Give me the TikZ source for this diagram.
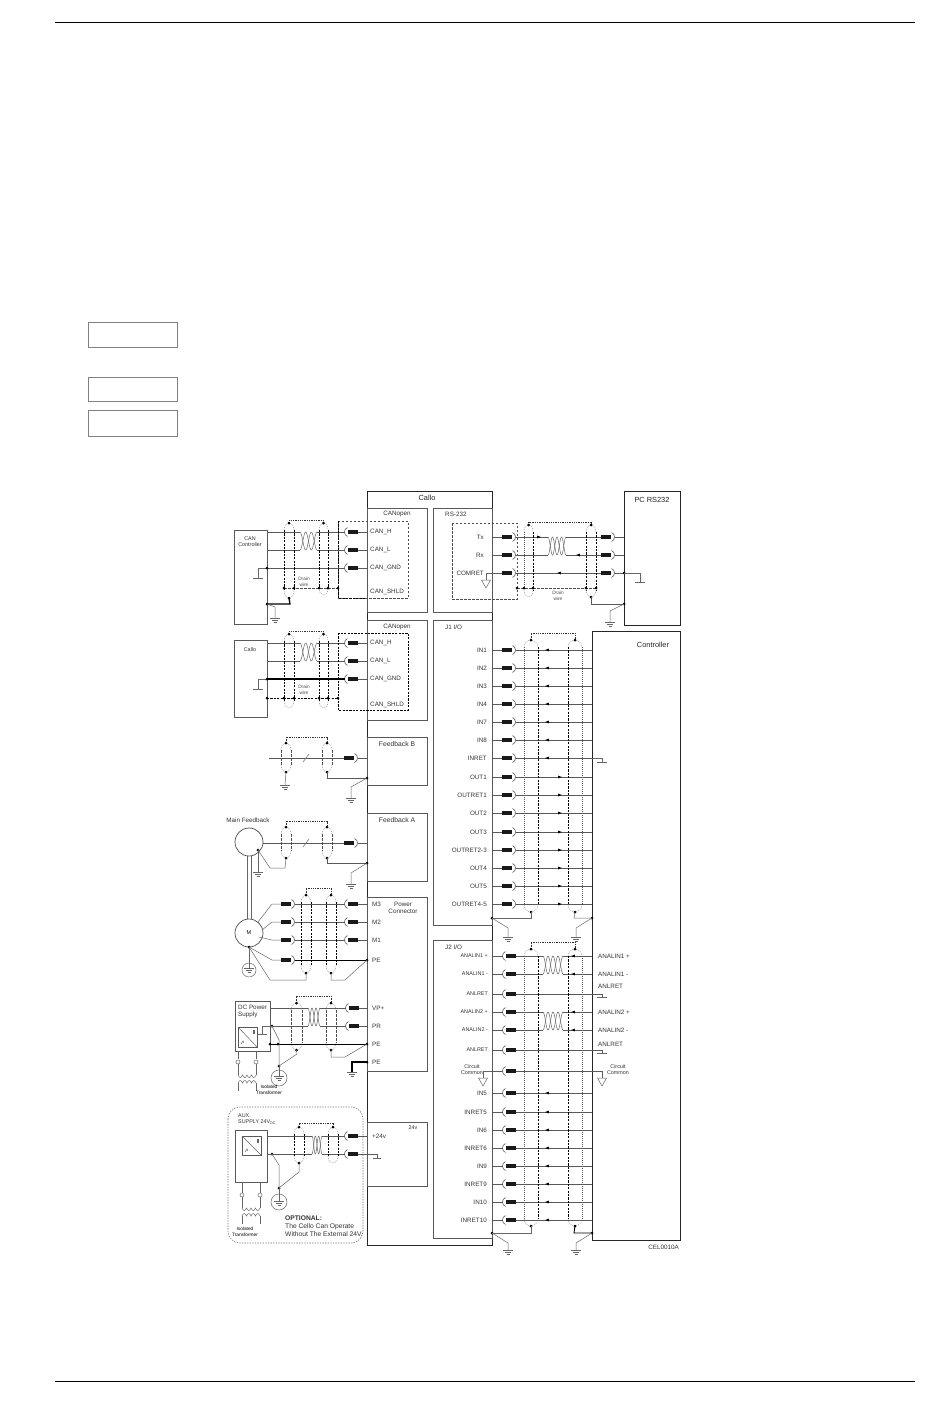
\documentclass[tikz,border=0pt]{standalone}
\usepackage{fontspec}
\setmainfont{Liberation Sans}
\usetikzlibrary{calc,fit,positioning}

\tikzset{
    framebox/.style={draw=black!85, line width=0.9pt, inner sep=0pt, outer sep=0pt},
    subbox/.style={draw=black!65, line width=0.7pt, inner sep=0pt, outer sep=0pt},
    blankbox/.style={draw=black!50, line width=0.9pt, inner sep=0pt, outer sep=0pt},
    plug/.style={fill=black!90, minimum width=10pt, minimum height=4.6pt, inner sep=0pt, outer sep=0pt},
    lbl/.style={font=\fontsize{6.3}{7}\selectfont, text=black!80, inner sep=0pt},
    tinylbl/.style={font=\fontsize{5.4}{6}\selectfont, text=black!80, inner sep=0pt},
    drainlbl/.style={font=\fontsize{4.8}{5.8}\selectfont, text=black!70, inner sep=0pt, align=center},
    headlbl/.style={font=\fontsize{7.4}{9}\selectfont, text=black!85, inner sep=0pt},
    wire/.style={draw=black!65, line width=0.7pt},
    fatwire/.style={draw=black, line width=1.3pt},
    thinwire/.style={draw=black!60, line width=0.5pt},
    cup/.style={draw=black!65, line width=0.6pt},
    shfat/.style={draw=black, line width=0.9pt, dash pattern=on 2.2pt off 1.2pt},
    shmid/.style={draw=black!70, line width=0.6pt, dash pattern=on 2.5pt off 1.5pt},
    shthin/.style={draw=black!65, line width=0.5pt, dash pattern=on 1pt off 1pt},
    shend/.style={draw=black!45, line width=0.4pt, dash pattern=on 1pt off 1pt},
    shlinkline/.style={draw=black!80, line width=0.7pt, dash pattern=on 1.3pt off 1pt},
    auxbox/.style={draw=black!55, line width=0.6pt, dash pattern=on 1.3pt off 1.3pt, rounded corners=12pt},
}

\newcommand{\jd}[1]{\fill[black] #1 circle (1.5pt);}
\newcommand{\plugR}[3]{
    \node[plug] (#1) at (#2,#3) {};
    \coordinate (#1c) at ($(#1.east)+(3.5,0)$);
    \draw[cup] ($(#1c)+(-3,-4.5)$) .. controls ($(#1c)+(1,-3)$) and ($(#1c)+(1,3)$) .. ($(#1c)+(-3,4.5)$);
}
\newcommand{\plugL}[3]{
    \node[plug] (#1) at (#2,#3) {};
    \coordinate (#1c) at ($(#1.west)+(-3.5,0)$);
    \draw[cup] ($(#1c)+(3,-4.5)$) .. controls ($(#1c)+(-1,-3)$) and ($(#1c)+(-1,3)$) .. ($(#1c)+(3,4.5)$);
}
\newcommand{\shield}[7]{
    \pgfmathsetmacro{\shm}{(#2+#3)/2}
    \pgfmathsetmacro{\sha}{#4+7}
    \pgfmathsetmacro{\shb}{#5-7}
    \coordinate (#1t) at (\shm,#4);
    \coordinate (#1b) at (\shm,#5);
    \draw[#6] (#2,\sha) -- (#2,\shb);
    \draw[#7] (#3,\sha) -- (#3,\shb);
    \draw[shend] (#2,\sha) .. controls (#2,#4+2) and (\shm-2,#4) .. (\shm,#4) .. controls (\shm+2,#4) and (#3,#4+2) .. (#3,\sha);
    \draw[shend] (#2,\shb) .. controls (#2,#5-2) and (\shm-2,#5) .. (\shm,#5) .. controls (\shm+2,#5) and (#3,#5-2) .. (#3,\shb);
}
\newcommand{\shlink}[3]{
    \draw[shlinkline] (#1) -- ($(#1)+(0,-#3)$) -| (#2);
    \jd{(#1)} \jd{(#2)}
}
\newcommand{\twist}[6][540]{
    \coordinate (#2a) at (#3,#5);
    \coordinate (#2b) at (#3,#6);
    \coordinate (#2c) at (#4,#5);
    \coordinate (#2d) at (#4,#6);
    \draw[thinwire] plot[domain=0:1, samples=49, smooth] ({#3+(#4-#3)*\x},{(#5+#6)/2+(#5-#6)/2*cos(#1*\x)});
    \draw[thinwire] plot[domain=0:1, samples=49, smooth] ({#3+(#4-#3)*\x},{(#5+#6)/2-(#5-#6)/2*cos(#1*\x)});
}
\newcommand{\gnd}[2]{
    \draw[thinwire] (#1-5,#2) -- (#1+5,#2);
    \draw[thinwire] (#1-3,#2+2) -- (#1+3,#2+2);
    \draw[thinwire] (#1-1.5,#2+4) -- (#1+1.5,#2+4);
}
\newcommand{\sgnd}[2]{
    \draw[thinwire] (#1-5,#2) -- (#1+5,#2);
}
\newcommand{\tipL}[2]{\fill[black] (#1-1.8,#2) -- (#1+1.8,#2-1.4) -- (#1+1.8,#2+1.4) -- cycle;}
\newcommand{\tipR}[2]{\fill[black] (#1+1.8,#2) -- (#1-1.8,#2-1.4) -- (#1-1.8,#2+1.4) -- cycle;}
\newcommand{\commontri}[2]{\draw[thinwire] (#1-4.5,#2) -- (#1+4.5,#2) -- (#1,#2+8) -- cycle;}
\newcommand{\xfmr}[3]{
    \draw[thinwire] plot[domain=0:1, samples=41, smooth] ({#1+(#2-#1)*\x},{#3+2.5*abs(sin(720*\x))});
    \draw[thinwire] plot[domain=0:1, samples=41, smooth] ({#1+(#2-#1)*\x},{#3+8-2.5*abs(sin(720*\x))});
}
\newcommand{\supsym}[1]{
    \draw[thinwire] (#1.north west) -- (#1.south east);
    \draw[thinwire] ($(#1.north east)+(-4,3)$) -- ($(#1.north east)+(-4,7)$);
    \draw[thinwire] ($(#1.north east)+(-2.5,3)$) -- ($(#1.north east)+(-2.5,7)$);
    \draw[thinwire] ($(#1.south west)+(3,-3)$) -- ($(#1.south west)+(5,-6)$) -- ($(#1.south west)+(6,-4)$);
}

\begin{document}
\begin{tikzpicture}[x=1pt, y=-1pt]
    \useasboundingbox[fill=white] (0,0) rectangle (950,1408);

    \coordinate (ruleTL) at (55,22);
    \coordinate (ruleTR) at (915,22);
    \coordinate (ruleBL) at (55,1381);
    \coordinate (ruleBR) at (915,1381);
    \draw[line width=0.9pt] (ruleTL) -- (ruleTR);
    \draw[line width=0.9pt] (ruleBL) -- (ruleBR);

    \node[blankbox, fit={(88,322) (177,347)}] (blankA) {};
    \node[blankbox, fit={(88,377) (177,401)}] (blankB) {};
    \node[blankbox, fit={(88,410) (177,436)}] (blankC) {};

    % Cello frame
    \node[framebox, fit={(367,491) (492,1245)}] (callo) {};
    \node[headlbl, anchor=center] (calloLbl) at (427,497.5) {Callo};
    \node[subbox, fit={(367,508) (427,612)}] (canA) {};
    \node[subbox, fit={(367,620) (427,720)}] (canB) {};
    \node[subbox, fit={(433,508) (492,612)}] (rs) {};
    \node[subbox, fit={(433,620) (492,925)}] (jone) {};
    \node[subbox, fit={(433,940) (492,1238)}] (jtwo) {};
    \node[subbox, fit={(367,737) (427,785)}] (fbb) {};
    \node[subbox, fit={(367,813) (427,881)}] (fba) {};
    \node[subbox, fit={(367,897) (427,1071)}] (power) {};
    \node[subbox, fit={(367,1122) (427,1186)}] (aux) {};
    \node[lbl, anchor=center] (canALbl) at (397,514) {CANopen};
    \node[lbl, anchor=center] (canBLbl) at (397,627) {CANopen};
    \node[lbl, anchor=west] (rsLbl) at (445,514) {RS-232};
    \node[lbl, anchor=west] (joneLbl) at (445,627) {J1 I/O};
    \node[lbl, anchor=west] (jtwoLbl) at (445,947) {J2 I/O};
    \node[lbl, anchor=center, font=\fontsize{6.8}{8}\selectfont] (fbbLbl) at (397,744) {Feedback B};
    \node[lbl, anchor=center, font=\fontsize{6.8}{8}\selectfont] (fbaLbl) at (397,820) {Feedback A};
    \node[lbl, anchor=center, align=center] (powerLbl) at (403,908) {Power\\Connector};
    \node[tinylbl, anchor=center] (auxLbl) at (413,1128) {24v};

    \node[framebox, fit={(624,491) (680,625)}] (pc) {};
    \node[headlbl, anchor=center] (pcLbl) at (652,500) {PC RS232};
    \node[framebox, fit={(592,631) (680,1240)}] (ctrl) {};
    \node[headlbl, anchor=center] (ctrlLbl) at (653,645) {Controller};
    \node[lbl, anchor=east] (celLbl) at (679,1247) {CEL0010A};

    % CAN controller
    \node[subbox, fit={(234,530) (267,624)}] (canctl) {};
    \node[tinylbl, anchor=center, align=center] (canctlLbl) at (250,542) {CAN\\Controller};
    \foreach \n/\y/\lab in {H/532/CAN\_H, L/550/CAN\_L, G/568/CAN\_GND}{
        \plugL{ca\n}{353}{\y}
        \draw[wire] (ca\n.east) -- (ca\n.east -| callo.west);
        \node[lbl, anchor=west] (ca\n Lbl) at (370,\y) {\lab};
    }
    \node[lbl, anchor=west] (caSLbl) at (370,592) {CAN\_SHLD};
    \twist{twa}{300}{317}{532}{550}
    \draw[wire] (canctl.east |- twaa) -- (twaa);
    \draw[wire] (canctl.east |- twab) -- (twab);
    \draw[wire] (twac) -- (caHc);
    \draw[wire] (twad) -- (caLc);
    \coordinate (jcaG) at (267,568);
    \draw[wire] (jcaG) -- (caGc);
    \draw[thinwire] (jcaG) -- (258,568) -- (258,578);
    \sgnd{258}{578}
    \jd{(jcaG)}
    \shield{sa}{284}{294}{523}{598}{shfat}{shfat}
    \shield{sb}{319}{328}{523}{595}{shfat}{shfat}
    \shlink{sat}{sbt}{3}
    \draw[shmid] (284,588) -- (338,588);
    \foreach \x in {284,294,319,328,338}{\jd{(\x,588)}}
    \draw[shmid] (338,521) rectangle (408,598);
    \draw[shfat] (338,521) -- (338,598) -- (366,598);
    \coordinate (jcaE) at (267,604);
    \draw[fatwire] (sab) -- (290,604) -- (jcaE);
    \jd{(sab)} \jd{(jcaE)}
    \draw[thinwire] (jcaE) -- (275,607) -- (275,618);
    \gnd{275}{618}
    \node[drainlbl] (drainA) at (304,582) {Drain\\wire};

    % second CAN
    \node[subbox, fit={(234,640) (267,717)}] (cello) {};
    \node[tinylbl, anchor=center] (celloLbl) at (250,650) {Callo};
    \foreach \n/\y/\lab in {H/643/CAN\_H, L/661/CAN\_L, G/679/CAN\_GND}{
        \plugL{cb\n}{353}{\y}
        \draw[wire] (cb\n.east) -- (cb\n.east -| callo.west);
        \node[lbl, anchor=west] (cb\n Lbl) at (370,\y) {\lab};
    }
    \node[lbl, anchor=west] (cbSLbl) at (370,705) {CAN\_SHLD};
    \twist{twb}{300}{317}{643}{661}
    \draw[wire] (cello.east |- twba) -- (twba);
    \draw[wire] (cello.east |- twbb) -- (twbb);
    \draw[wire] (twbc) -- (cbHc);
    \draw[wire] (twbd) -- (cbLc);
    \coordinate (jcbG) at (267,679);
    \draw[fatwire] (jcbG) -- (cbGc);
    \draw[thinwire] (jcbG) -- (258,679) -- (258,689);
    \sgnd{258}{689}
    \jd{(jcbG)}
    \shield{sc}{284}{294}{634}{708}{shfat}{shfat}
    \shield{sd}{319}{328}{634}{708}{shfat}{shfat}
    \shlink{sct}{sdt}{3}
    \draw[shfat] (267,698) -- (338,698);
    \foreach \x in {267,284,294,319,328,338}{\jd{(\x,698)}}
    \draw[shfat] (338,633) rectangle (408,710);
    \node[drainlbl] (drainB) at (304,690) {Drain\\wire};

    % Feedback B
    \plugR{fbbp}{349}{758}
    \coordinate (fbbIn) at (269,758);
    \draw[wire] (fbbIn) -- (fbbp.west);
    \draw[wire] (fbbpc) -- (fbbpc -| callo.west);
    \shield{se}{281}{291}{743}{772}{shmid}{shmid}
    \shield{sf}{322}{332}{743}{772}{shmid}{shmid}
    \shlink{set}{sft}{6}
    \jd{(seb)} \jd{(sfb)}
    \draw[thinwire] (303,762) -- (309,754);
    \draw[thinwire] (seb) -- (285,785);
    \gnd{285}{785}
    \coordinate (jfbb) at (367,778);
    \draw[wire] (sfb) |- (jfbb);
    \jd{(jfbb)}
    \draw[thinwire] (jfbb) -- (351,787) -- (351,798);
    \gnd{351}{798}

    % Feedback A
    \node[circle, draw=black!70, line width=0.7pt, minimum size=28pt, inner sep=0pt] (fbmot) at (249,842) {};
    \node[lbl, anchor=center] (fbmotLbl) at (248,820) {Main Feedback};
    \plugR{fbap}{349}{843}
    \draw[wire] (fbmot.east |- fbap) -- (fbap.west);
    \draw[wire] (fbapc) -- (fbapc -| callo.west);
    \shield{sg}{281}{291}{827}{858}{shmid}{shmid}
    \shield{sh}{322}{332}{827}{858}{shmid}{shmid}
    \shlink{sgt}{sht}{6}
    \jd{(sgb)} \jd{(shb)}
    \draw[thinwire] (303,847) -- (309,839);
    \coordinate (jfbm) at (258,850);
    \jd{(jfbm)}
    \draw[thinwire] (jfbm) -- (258,872);
    \gnd{258}{872}
    \draw[thinwire] (jfbm) -- (270,868) -- (285,868) -- (sgb);
    \coordinate (jfba) at (367,863);
    \draw[wire] (shb) |- (jfba);
    \jd{(jfba)}
    \draw[thinwire] (jfba) -- (351,873) -- (351,884);
    \gnd{351}{884}

    % Motor
    \node[circle, draw=black!70, line width=0.7pt, minimum size=28pt, inner sep=0pt, font=\fontsize{5.5}{6}\selectfont] (motor) at (249,933) {M};
    \draw[black!60, line width=0.8pt] (247,856) -- (247,919);
    \draw[black!60, line width=0.8pt] (251.5,856) -- (251.5,919);
    \foreach \n/\y/\lab/\mx/\my in {three/904/M3/258/922, two/922/M2/262/930, one/940/M1/259/937}{
        \plugR{ml\n}{286}{\y}
        \plugL{mr\n}{353}{\y}
        \draw[wire] (mr\n.east) -- (mr\n.east -| callo.west);
        \draw[wire] (ml\n c) -- (mr\n c);
        \draw[thinwire] (\mx,\my) -- ($(ml\n.west)+(-9,0)$) -- (ml\n.west);
        \node[lbl, anchor=west] (mr\n Lbl) at (372,\y) {\lab};
    }
    \plugR{mlpe}{286}{960}
    \coordinate (jmpe) at (367,960);
    \draw[fatwire, line width=0.9pt] (mlpec) -- (jmpe);
    \jd{(jmpe)}
    \node[lbl, anchor=west] (mpeLbl) at (372,960) {PE};
    \coordinate (jmot) at (249,947);
    \jd{(jmot)}
    \draw[thinwire] (jmot) -- (272,960) -- (mlpe.west);
    \draw[thinwire] (jmot) -- (249,968);
    \draw[thinwire] (249,970) circle (7pt);
    \gnd{249}{968}
    \shield{si}{301}{311}{895}{973}{shfat}{shfat}
    \shield{sj}{326}{336}{895}{973}{shfat}{shfat}
    \shlink{sit}{sjt}{7}
    \jd{(sib)} \jd{(sjb)}
    \draw[thinwire] (sib) -- (306,980) -- (270,980) -- (jmot);
    \draw[thinwire] (sjb) -- (331,980) -- (345,980) -- (jmpe);

    % DC supply
    \node[subbox, fit={(235,1001) (270,1051)}] (dc) {};
    \node[lbl, anchor=north west, align=left] (dcLbl) at (238,1004.5) {DC Power\\Supply};
    \node[subbox, fit={(238,1027) (257,1047)}] (dcin) {};
    \supsym{dcin}
    \foreach \n/\y/\lab in {vp/1008/VP+, pr/1026/PR}{
        \plugL{d\n}{354}{\y}
        \draw[wire] (d\n.east) -- (d\n.east -| callo.west);
        \node[lbl, anchor=west] (d\n Lbl) at (372,\y) {\lab};
    }
    \twist{twc}{308}{320}{1008}{1026}
    \draw[wire] (dc.east |- twca) -- (twca);
    \coordinate (jdpr) at (272,1026);
    \jd{(jdpr)}
    \draw[wire] (jdpr) -- (twcb);
    \draw[wire] (twcc) -- (dvpc);
    \draw[wire] (twcd) -- (dprc);
    \draw[thinwire] (jdpr) -- (262,1026) -- (262,1034);
    \sgnd{262}{1034}
    \coordinate (jdpe) at (367,1044);
    \coordinate (jdl) at (270,1044);
    \coordinate (jdm) at (278,1044);
    \draw[fatwire, line width=0.9pt] (jdl) -- (jdpe);
    \jd{(jdl)} \jd{(jdm)} \jd{(jdpe)}
    \node[lbl, anchor=west] (dpeLbl) at (372,1044) {PE};
    \coordinate (jdpf) at (367,1062);
    \draw[fatwire] (jdpf) -- (352,1062) -- (352,1072);
    \gnd{352}{1072}
    \jd{(jdpf)}
    \node[lbl, anchor=west] (dpfLbl) at (372,1062) {PE};
    \shield{sk}{291}{302}{1003}{1050}{shmid}{shmid}
    \shield{sl}{326}{336}{1003}{1050}{shmid}{shmid}
    \shlink{skt}{slt}{7}
    \jd{(skb)} \jd{(slb)}
    \coordinate (jdg) at (279,1066);
    \jd{(jdg)}
    \draw[thinwire] (jdpr) -- (279,1040) -- (jdg);
    \draw[thinwire] (skb) -- (297,1054) -- (jdg);
    \draw[thinwire] (slb) -- (331,1057) -- (345,1057) -- (jdpe);
    \draw[thinwire] (279,1078) circle (8pt);
    \draw[thinwire] (jdg) -- (279,1076);
    \gnd{279}{1076}
    \foreach \x in {238,256}{
        \draw[thinwire] (\x,1051) -- (\x,1059);
        \draw[thinwire] (\x,1062) circle (2pt);
        \draw[thinwire] (\x,1064) -- (\x,1075);
        \draw[thinwire] (\x,1083) -- (\x,1091);
    }
    \xfmr{238}{256}{1075}
    \node[drainlbl, anchor=center, text=black] (dxLbl) at (269,1090) {Isolated\\Transformer};

    % Aux 24 V
    \draw[auxbox] (228,1107) rectangle (363,1243);
    \node[tinylbl, anchor=north west, align=left] (xLbl) at (238,1113.5) {AUX.\\SUPPLY 24V\textsubscript{DC}};
    \node[subbox, fit={(235,1130) (267,1182)}] (xb) {};
    \node[subbox, fit={(242,1136) (261,1155)}] (xin) {};
    \supsym{xin}
    \plugL{xa}{353}{1136}
    \plugL{xg}{353}{1154}
    \draw[wire] (xa.east) -- (xa.east -| callo.west);
    \coordinate (xgT) at (377,1154);
    \draw[wire] (xg.east) -- (xgT) -- (377,1158);
    \draw[thinwire] (373,1158) -- (381,1158);
    \node[lbl, anchor=west] (xaLbl) at (372,1136) {+24v};
    \twist{twd}{312}{322}{1136}{1154}
    \draw[wire] (xb.east |- twda) -- (twda);
    \coordinate (jxd) at (272,1154);
    \jd{(jxd)}
    \draw[wire] (xb.east |- jxd) -- (twdb);
    \draw[wire] (twdc) -- (xac);
    \draw[wire] (twdd) -- (xgc);
    \shield{sm}{294}{304}{1127}{1163}{shfat}{shfat}
    \shield{sn}{328}{338}{1127}{1163}{shfat}{shfat}
    \shlink{smt}{snt}{4}
    \jd{(smb)}
    \coordinate (jxg) at (279,1188);
    \jd{(jxg)}
    \draw[thinwire] (jxd) -- (279,1165) -- (jxg);
    \draw[thinwire] (smb) -- (299,1172) -- (jxg);
    \draw[thinwire] (279,1202) circle (8pt);
    \draw[thinwire] (jxg) -- (279,1201);
    \gnd{279}{1201}
    \foreach \x in {242,260}{
        \draw[thinwire] (\x,1182) -- (\x,1193);
        \draw[thinwire] (\x,1195) circle (2pt);
        \draw[thinwire] (\x,1197) -- (\x,1208);
        \draw[thinwire] (\x,1216) -- (\x,1224);
    }
    \xfmr{242}{260}{1208}
    \node[drainlbl, anchor=center, text=black] (xxLbl) at (245,1232) {Isolated\\Transformer};
    \node[lbl, anchor=north west, align=left, font=\fontsize{6.7}{8}\selectfont] (xoptLbl) at (285,1215.5) {\textbf{OPTIONAL:}\\The Cello Can Operate\\Without The External 24V.};

    % RS-232
    \draw[shmid] (452,523) rectangle (517,599);
    \foreach \n/\y/\lab in {T/537/Tx, R/555/Rx, C/573/COMRET}{
        \plugR{rl\n}{507}{\y}
        \plugR{rr\n}{606}{\y}
        \draw[wire] (rl\n.west -| callo.east) -- (rl\n.west);
        \draw[wire] (rr\n c) -- (rr\n c -| pc.west);
        \node[lbl, anchor=east] (rl\n Lbl) at (484,\y) {\lab};
    }
    \twist[720]{twr}{548}{566}{537}{555}
    \draw[wire] (rlTc) -- (twra);
    \draw[wire] (rlRc) -- (twrb);
    \draw[wire] (twrc) -- (rrT.west);
    \draw[wire] (twrd) -- (rrR.west);
    \draw[wire] (rlCc) -- (rrC.west);
    \tipR{539}{537} \tipL{578}{555} \tipL{559}{573}
    \draw[thinwire] (rlC.west -| callo.east) -- (486,573) -- (486,580);
    \commontri{486}{580}
    \shield{so}{524}{533}{525}{597}{shthin}{shfat}
    \shield{sp}{586}{596}{525}{597}{shfat}{shfat}
    \shlink{sot}{spt}{3}
    \draw[shmid] (517,588) -- (596,588);
    \foreach \x in {517,524,533,586,596}{\jd{(\x,588)}}
    \node[drainlbl] (drainR) at (558,596) {Drain\\wire};
    \coordinate (jpcA) at (624,573);
    \coordinate (jpcB) at (624,604);
    \jd{(jpcA)} \jd{(jpcB)} \jd{(spb)}
    \draw[thinwire] (jpcA) -- (640,573) -- (640,582);
    \sgnd{640}{582}
    \draw[wire] (spb) |- (jpcB);
    \draw[thinwire] (jpcB) -- (610,611) -- (610,622);
    \gnd{610}{622}

    % J1
    \foreach \n/\y/\lab in {a/650/IN1, b/668/IN2, c/686/IN3, d/704/IN4, e/722/IN7, f/740/IN8, g/758/INRET}{
        \plugR{ji\n}{507}{\y}
        \draw[wire] (ji\n.west -| callo.east) -- (ji\n.west);
        \draw[wire] (ji\n c) -- (ji\n c -| ctrl.west);
        \node[lbl, anchor=east] (ji\n Lbl) at (487,\y) {\lab};
        \tipL{547}{\y}
    }
    \foreach \n/\y/\lab in {a/777/OUT1, b/795/OUTRET1, c/813/OUT2, d/832/OUT3, e/850/OUTRET2-3, f/868/OUT4, g/886/OUT5, h/904/OUTRET4-5}{
        \plugR{jo\n}{507}{\y}
        \draw[wire] (jo\n.west -| callo.east) -- (jo\n.west);
        \draw[wire] (jo\n c) -- (jo\n c -| ctrl.west);
        \node[lbl, anchor=east] (jo\n Lbl) at (487,\y) {\lab};
        \tipR{560}{\y}
    }
    \draw[thinwire] (ctrl.west |- jig) -- (602,758) -- (602,762);
    \sgnd{602}{762}
    \shield{sq}{524}{538}{640}{912}{shthin}{shfat}
    \shield{sr}{568}{582}{640}{912}{shfat}{shthin}
    \shlink{sqt}{srt}{7}
    \coordinate (jjA) at (492,918);
    \coordinate (jjB) at (592,918);
    \jd{(jjA)} \jd{(jjB)} \jd{(sqb)} \jd{(srb)}
    \draw[thinwire] (jjA) -- (531,918) -- (sqb);
    \draw[thinwire] (jjB) -- (574,918) -- (srb);
    \draw[thinwire] (jjA) -- (508,928) -- (508,937);
    \gnd{508}{937}
    \draw[thinwire] (jjB) -- (576,928) -- (576,937);
    \gnd{576}{937}

    % J2
    \foreach \n/\y/\lab in {a/956/ANALIN1 +, b/974/ANALIN1 -, c/994/ANLRET, d/1012/ANALIN2 +, e/1030/ANALIN2 -, f/1050/ANLRET}{
        \plugL{ja\n}{511}{\y}
        \draw[wire] (ja\n c -| callo.east) -- (ja\n c);
        \node[tinylbl, anchor=east] (ja\n Lbl) at (488,\y) {\lab};
    }
    \twist[720]{twe}{543}{563}{956}{974}
    \twist[720]{twf}{543}{563}{1012}{1030}
    \draw[wire] (jaa.east) -- (twea);
    \draw[wire] (jab.east) -- (tweb);
    \draw[wire] (jad.east) -- (twfa);
    \draw[wire] (jae.east) -- (twfb);
    \draw[wire] (twec) -- (twec -| ctrl.west);
    \draw[wire] (twed) -- (twed -| ctrl.west);
    \draw[wire] (twfc) -- (twfc -| ctrl.west);
    \draw[wire] (twfd) -- (twfd -| ctrl.west);
    \foreach \y in {956,974,1012,1030}{\tipL{573}{\y}}
    \draw[wire] (jac.east) -- (602,994) -- (602,997);
    \sgnd{602}{997}
    \draw[wire] (jaf.east) -- (602,1050) -- (602,1053);
    \sgnd{602}{1053}
    \node[lbl, anchor=west] (caAp) at (598,956) {ANALIN1 +};
    \node[lbl, anchor=west] (caAm) at (598,974) {ANALIN1 -};
    \node[lbl, anchor=west] (caAr) at (598,986) {ANLRET};
    \node[lbl, anchor=west] (caBp) at (598,1012) {ANALIN2 +};
    \node[lbl, anchor=west] (caBm) at (598,1030) {ANALIN2 -};
    \node[lbl, anchor=west] (caBr) at (598,1044) {ANLRET};
    \plugL{jcc}{511}{1071}
    \draw[wire] (jccc -| callo.east) -- (jccc);
    \draw[wire] (jcc.east) -- (602,1071) -- (602,1078);
    \commontri{602}{1078}
    \draw[thinwire] (jccc -| callo.east) -- (483,1071) -- (483,1078);
    \commontri{483}{1078}
    \node[tinylbl, anchor=center, align=center] (ccl) at (472,1070) {Circuit\\Common};
    \node[tinylbl, anchor=center, align=center] (ccr) at (618,1070) {Circuit\\Common};
    \foreach \n/\y/\lab in {a/1093/IN5, b/1112/INRET5, c/1130/IN6, d/1148/INRET6, e/1166/IN9, f/1184/INRET9, g/1202/IN10, h/1220/INRET10}{
        \plugL{jb\n}{511}{\y}
        \draw[wire] (jb\n c -| callo.east) -- (jb\n c);
        \draw[wire] (jb\n.east) -- (jb\n.east -| ctrl.west);
        \node[lbl, anchor=east] (jb\n Lbl) at (487,\y) {\lab};
        \tipL{547}{\y}
    }
    \shield{ss}{524}{538}{949}{1226}{shthin}{shfat}
    \shield{st}{568}{582}{949}{1226}{shfat}{shthin}
    \shlink{sst}{stt}{7}
    \coordinate (jkA) at (492,1233);
    \coordinate (jkB) at (592,1233);
    \jd{(jkA)} \jd{(jkB)} \jd{(ssb)} \jd{(stb)}
    \draw[thinwire] (jkA) -- (531,1233) -- (ssb);
    \draw[line width=0.9pt] (jkB) -- (574,1233) -- (stb);
    \draw[thinwire] (jkA) -- (508,1243) -- (508,1250);
    \gnd{508}{1250}
    \draw[thinwire] (jkB) -- (576,1243) -- (576,1250);
    \gnd{576}{1250}
\end{tikzpicture}
\end{document}
